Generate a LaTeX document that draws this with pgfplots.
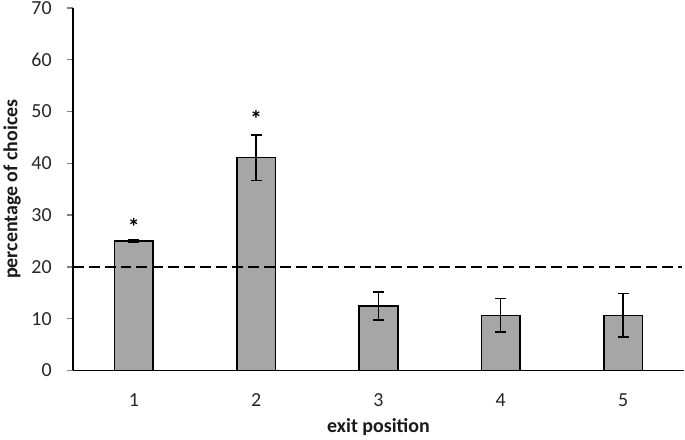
\documentclass[border=0pt]{standalone}
\usepackage{pgfplots}
\usepackage{fontspec}
\setmainfont{Carlito}
\pgfplotsset{compat=1.18}
\definecolor{bargray}{HTML}{A6A6A6}

\begin{document}
\begin{tikzpicture}
\begin{axis}[
  scale only axis,
  width=614pt,
  height=364pt,
  xmin=0.5, xmax=5.5,
  ymin=0, ymax=70,
  axis lines=left,
  axis line style={line width=1.6pt,-},
  ytick={0,10,...,70},
  xtick={1,2,3,4,5},
  xtick style={draw=none},
  ytick style={line width=1.4pt},
  tick align=outside,
  major tick length=6pt,
  tick label style={font=\fontsize{20}{22}\selectfont, text=black!85},
  yticklabel style={anchor=east, inner sep=0pt, xshift=-15pt},
  xticklabel style={anchor=center, inner sep=0pt, yshift=-24pt},
  /pgf/number format/assume math mode=true,
  xlabel={\textbf{exit position}},
  ylabel={\textbf{percentage of choices}},
  label style={font=\fontsize{20}{22}\selectfont, text=black!90},
  xlabel style={at={(axis description cs:0.5,0)}, anchor=center, yshift=-57pt},
  ylabel style={at={(axis description cs:0,0.5)}, anchor=center, yshift=61pt},
  clip=false,
]
\addplot[ybar, bar width=0.315, fill=bargray, draw=black, line width=1.6pt,
  error bars/.cd, y dir=both, y explicit,
  error bar style={line width=1.4pt, black},
  error mark options={rotate=90, mark size=5.5pt, line width=1.4pt, black}]
  coordinates {
    (1,25.0) +- (0,0.3)
    (2,41.1) +- (0,4.4)
    (3,12.45) +- (0,2.7)
    (4,10.65) +- (0,3.25)
    (5,10.65) +- (0,4.2)
  };
\addplot[black, line width=1.4pt, dash pattern=on 11pt off 5pt]
  coordinates {(0.5,20) (5.48,20)};
\addplot[draw=none, mark=none, nodes near coords={\textbf{*}},
  every node near coord/.style={font=\fontsize{24}{24}\selectfont, anchor=center}]
  coordinates {(1,27.8) (2,48.6)};
\path (rel axis cs:0,1) ++(0,8pt) coordinate (topspace);
\end{axis}
\end{tikzpicture}
\end{document}
